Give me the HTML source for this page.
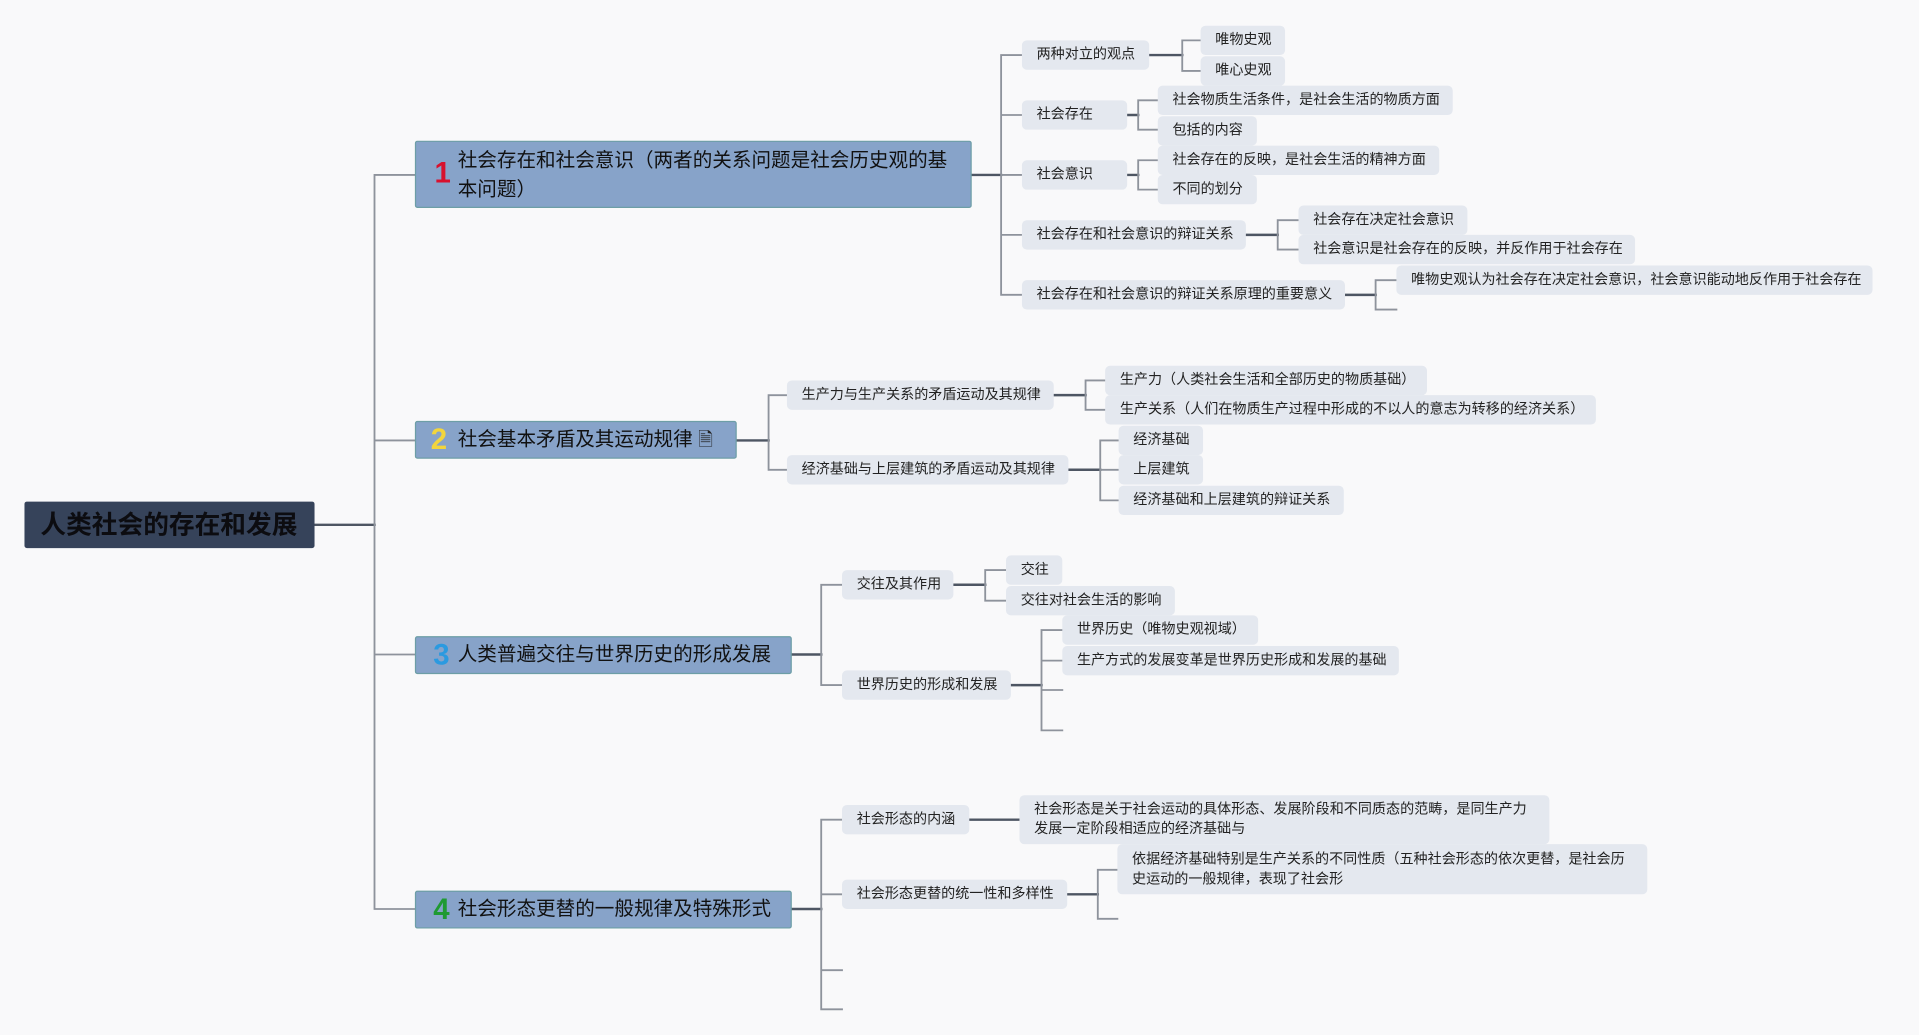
<!DOCTYPE html>
<html><head><meta charset="utf-8"><style>
html,body{margin:0;padding:0;background:#f9f9fa;overflow:hidden;width:1919px;height:1035px}
#c{position:absolute;left:0;top:0;width:1568px;height:846px;transform:scale(1.22385,1.2234);transform-origin:0 0}
.n{position:absolute;background:#e4e8ef;border-radius:4px;font:11.5px "Liberation Sans","Noto Sans CJK SC",sans-serif;color:#222;padding-left:12px;box-sizing:border-box;height:24px;line-height:24px;white-space:nowrap}
.b{position:absolute;background:#87a3c9;border:1px solid #6d9ea6;border-radius:2px;font:16px "Liberation Sans","Noto Sans CJK SC",sans-serif;color:#111;box-sizing:border-box;white-space:nowrap}
.num{position:absolute;font-weight:bold;font-size:24px;font-family:"Liberation Sans",sans-serif}
.t{position:absolute;left:34px}
svg{position:absolute;left:0;top:0}
</style></head><body><div id="c">
<svg width="1568" height="846" fill="none" stroke-linecap="square">
<g stroke="#4e5663" stroke-width="2">
<path d="M257 429H306"/>
<path d="M794 143H818M602 360H628M647 535H671M647 743H671"/>
<path d="M939 45H966M921 94H930M921 143H930M1018 192H1044M1099 241H1124M861 323H887M873 384H899M779 478H805M826 560H851M792 670H833M872 731H897"/>
</g>
<g stroke="#8e939c" stroke-width="1.5">
<path d="M306 143V743M306 143H339M306 360H339M306 535H339M306 743H339"/>
<path d="M818 45V241M818 45H835M818 94H835M818 143H835M818 192H835M818 241H835"/>
<path d="M966 33V58M966 33H981M966 58H981"/>
<path d="M930 82V106M930 82H946M930 106H946M930 131V155M930 131H946M930 155H946"/>
<path d="M1044 180V204M1044 180H1061M1044 204H1061"/>
<path d="M1124 229V253M1124 229H1141M1124 253H1141"/>
<path d="M628 323V384M628 323H643M628 384H643"/>
<path d="M887 311V335M887 311H903M887 335H903"/>
<path d="M899 360V409M899 360H914M899 384H914M899 409H914"/>
<path d="M671 478V560M671 478H688M671 560H688"/>
<path d="M805 466V491M805 466H822M805 491H822"/>
<path d="M851 515V597M851 515H868M851 540H868M851 564H868M851 597H868"/>
<path d="M671 670V825M671 670H688M671 731H688M671 793H688M671 825H688"/>
<path d="M897 711V751M897 711H913M897 751H913"/>
</g>
</svg>
<div style="position:absolute;left:20px;top:410px;width:237px;height:38px;background:#36435a;border-radius:2px;font:bold 21px 'Liberation Sans','Noto Sans CJK SC',sans-serif;color:#0c0c10;line-height:40px;padding-left:13px;box-sizing:border-box">人类社会的存在和发展</div>

<div class="b" style="left:339px;top:115px;width:455px;height:55px"><span class="num" style="color:#d8112e;left:15px;top:12px">1</span><span class="t" style="top:4px;line-height:24px">社会存在和社会意识（两者的关系问题是社会历史观的基<br>本问题）</span></div>
<div class="b" style="left:339px;top:344px;width:263px;height:31px"><span class="num" style="color:#f2d53c;left:12px;top:1px">2</span><span class="t" style="top:4px;line-height:22px">社会基本矛盾及其运动规律 <span style="font-size:15px;color:#222">🗎</span></span></div>
<div class="b" style="left:339px;top:520px;width:308px;height:31px"><span class="num" style="color:#2b9ae0;left:14px;top:1px">3</span><span class="t" style="top:4px;line-height:22px">人类普遍交往与世界历史的形成发展</span></div>
<div class="b" style="left:339px;top:728px;width:308px;height:31px"><span class="num" style="color:#1f9a32;left:14px;top:1px">4</span><span class="t" style="top:4px;line-height:22px">社会形态更替的一般规律及特殊形式</span></div>

<div class="n" style="left:835px;top:33px;width:104px">两种对立的观点</div>
<div class="n" style="left:981px;top:21px;width:69px">唯物史观</div>
<div class="n" style="left:981px;top:46px;width:69px">唯心史观</div>
<div class="n" style="left:835px;top:82px;width:86px">社会存在</div>
<div class="n" style="left:946px;top:70px;width:241px">社会物质生活条件，是社会生活的物质方面</div>
<div class="n" style="left:946px;top:95px;width:81px">包括的内容</div>
<div class="n" style="left:835px;top:131px;width:86px">社会意识</div>
<div class="n" style="left:946px;top:119px;width:230px">社会存在的反映，是社会生活的精神方面</div>
<div class="n" style="left:946px;top:143px;width:81px">不同的划分</div>
<div class="n" style="left:835px;top:180px;width:183px">社会存在和社会意识的辩证关系</div>
<div class="n" style="left:1061px;top:168px;width:138px">社会存在决定社会意识</div>
<div class="n" style="left:1061px;top:192px;width:275px">社会意识是社会存在的反映，并反作用于社会存在</div>
<div class="n" style="left:835px;top:229px;width:264px">社会存在和社会意识的辩证关系原理的重要意义</div>
<div class="n" style="left:1141px;top:217px;width:389px">唯物史观认为社会存在决定社会意识，社会意识能动地反作用于社会存在</div>

<div class="n" style="left:643px;top:311px;width:218px">生产力与生产关系的矛盾运动及其规律</div>
<div class="n" style="left:903px;top:299px;width:263px">生产力（人类社会生活和全部历史的物质基础）</div>
<div class="n" style="left:903px;top:323px;width:401px">生产关系（人们在物质生产过程中形成的不以人的意志为转移的经济关系）</div>
<div class="n" style="left:643px;top:372px;width:230px">经济基础与上层建筑的矛盾运动及其规律</div>
<div class="n" style="left:914px;top:348px;width:69px">经济基础</div>
<div class="n" style="left:914px;top:372px;width:69px">上层建筑</div>
<div class="n" style="left:914px;top:397px;width:184px">经济基础和上层建筑的辩证关系</div>

<div class="n" style="left:688px;top:466px;width:91px">交往及其作用</div>
<div class="n" style="left:822px;top:454px;width:46px">交往</div>
<div class="n" style="left:822px;top:479px;width:138px">交往对社会生活的影响</div>
<div class="n" style="left:688px;top:548px;width:138px">世界历史的形成和发展</div>
<div class="n" style="left:868px;top:503px;width:160px">世界历史（唯物史观视域）</div>
<div class="n" style="left:868px;top:528px;width:275px">生产方式的发展变革是世界历史形成和发展的基础</div>

<div class="n" style="left:688px;top:658px;width:104px">社会形态的内涵</div>
<div class="n" style="left:833px;top:650px;width:433px;height:40px;line-height:16px;padding-top:4px">社会形态是关于社会运动的具体形态、发展阶段和不同质态的范畴，是同生产力<br>发展一定阶段相适应的经济基础与</div>
<div class="n" style="left:688px;top:719px;width:184px">社会形态更替的统一性和多样性</div>
<div class="n" style="left:913px;top:690px;width:433px;height:41px;line-height:16px;padding-top:5px">依据经济基础特别是生产关系的不同性质（五种社会形态的依次更替，是社会历<br>史运动的一般规律，表现了社会形</div>
</div></body></html>
